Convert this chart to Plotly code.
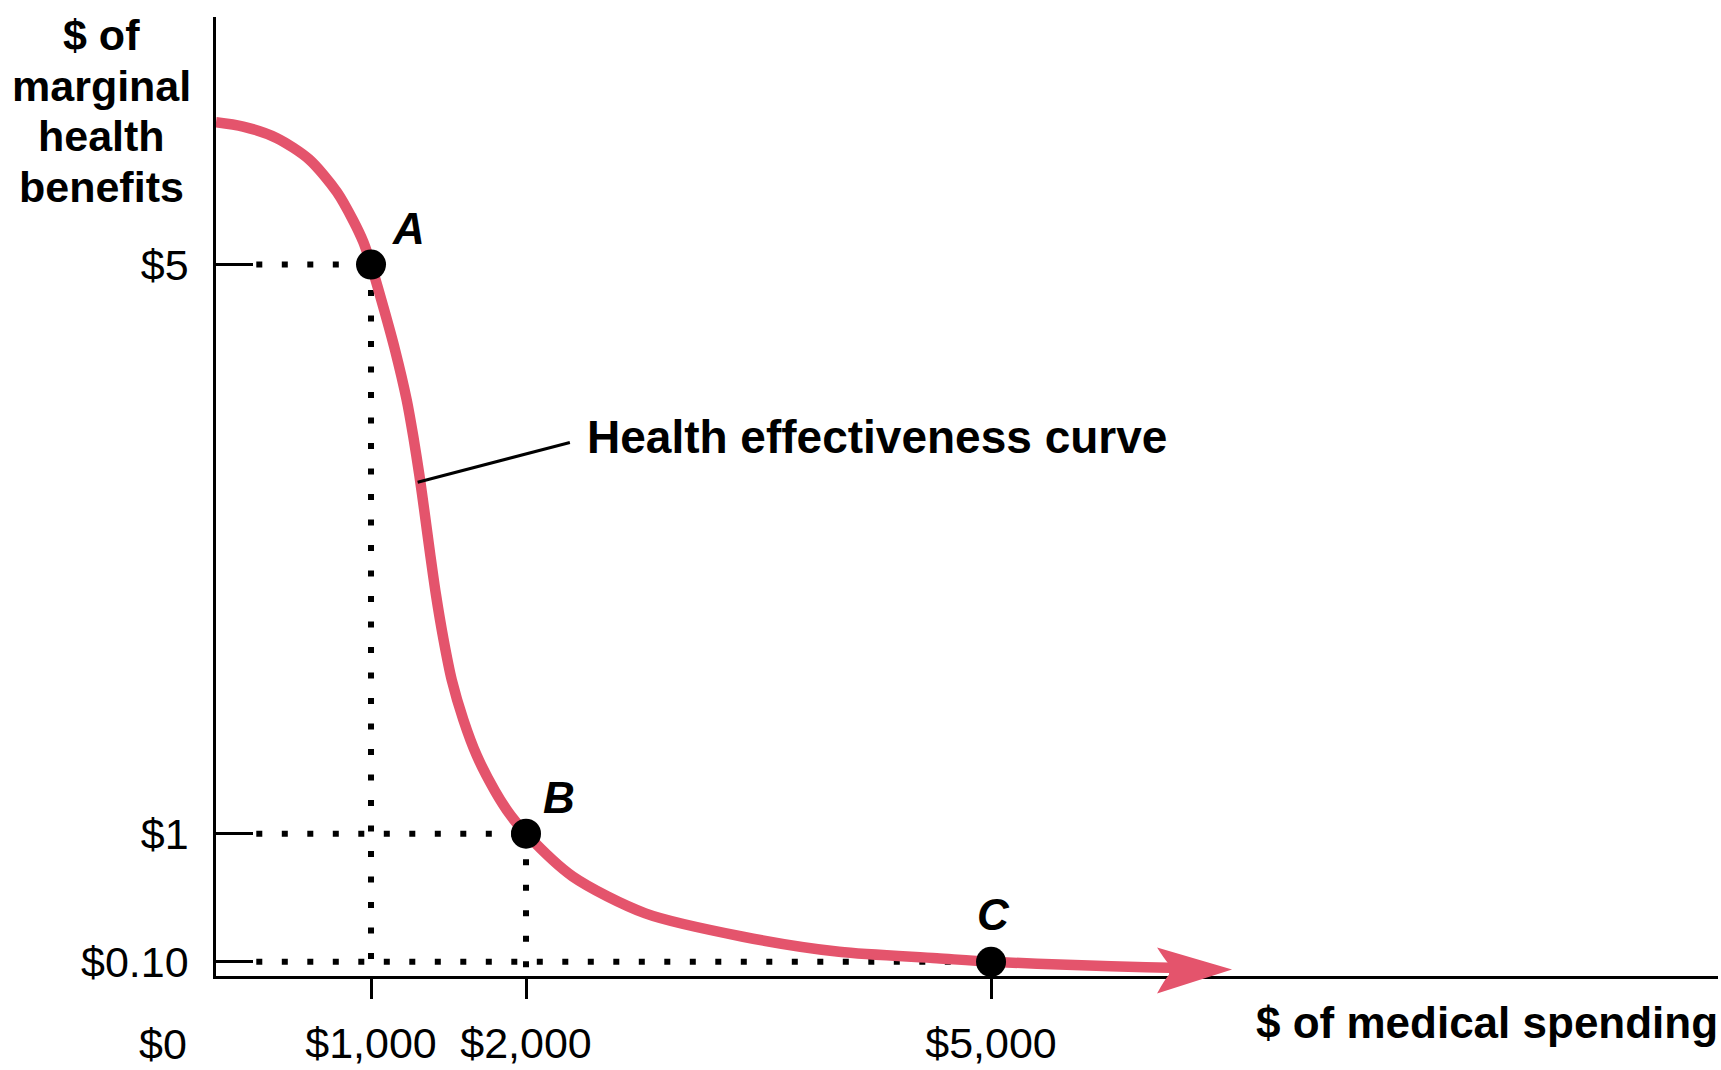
import plotly.graph_objects as go

# ---- data ----
curve_x = [0, 175, 390, 600, 780, 885, 950, 1000, 1080, 1155, 1230, 1273, 1312, 1344,
           1381, 1419, 1467, 1521, 1596, 1682, 1800, 1900, 2000, 2300, 2770, 3400,
           4020, 4650, 5000, 5585, 6000, 6300, 6555]
curve_y = [6.0, 5.97, 5.89, 5.74, 5.51, 5.31, 5.16, 5.0, 4.70, 4.40, 4.05, 3.79, 3.52, 3.27,
           2.97, 2.68, 2.37, 2.08, 1.80, 1.55, 1.30, 1.13, 1.0, 0.70, 0.44, 0.276,
           0.17, 0.125, 0.1, 0.075, 0.062, 0.055, 0.045]

point_x = [1000, 2000, 5000]
point_y = [5, 1, 0.10]
point_labels = ["A", "B", "C"]

x_tickvals = [1000, 2000, 5000]
x_ticktext = ["$1,000", "$2,000", "$5,000"]
y_tickvals = [0.10, 1, 5]
y_ticktext = ["$0.10", "$1", "$5"]

curve_name = "Health effectiveness curve"
x_title = "$ of medical spending"
y_title_lines = ["$ of", "marginal", "health", "benefits"]
origin_label = "$0"

# ---- axes ranges ----
X_RANGE = [0, 9690]
Y_RANGE = [0, 6.74]

# ---- style ----
RED = "#E4546C"
BOLD = "Liberation Sans, Arial, sans-serif"
REG = "Liberation Sans, Arial, sans-serif"

fig = go.Figure()

# curve (shaft ends under the arrowhead)
fig.add_trace(go.Scatter(
    x=curve_x[:-1], y=curve_y[:-1], mode="lines",
    line=dict(color=RED, width=10.5, shape="spline", smoothing=0.8),
    hoverinfo="skip"))

# arrowhead anchored at the curve tip (paper refs so it is not clipped at the axis)
tip_px = (curve_x[-1] - X_RANGE[0]) / (X_RANGE[1] - X_RANGE[0])
tip_py = (curve_y[-1] - Y_RANGE[0]) / (Y_RANGE[1] - Y_RANGE[0])
fig.add_shape(type="path", xref="paper", yref="paper",
              xsizemode="pixel", ysizemode="pixel",
              xanchor=tip_px, yanchor=tip_py,
              path="M0,0 L-75,22 Q-68,11 -63,5 L-63,-5 Q-68,-11 -75,-24 Z",
              fillcolor=RED, line=dict(width=0), layer="above")

# dotted guide lines
DOT = dict(color="black", width=6, dash="6px,19.5px")
for px_, py_ in zip(point_x, point_y):
    fig.add_shape(type="line", xref="x", yref="y", x0=260, x1=px_, y0=py_, y1=py_,
                  line=DOT, layer="below")
    fig.add_shape(type="line", xref="x", yref="y", x0=px_, x1=px_, y0=py_, y1=0,
                  line=DOT, layer="below")

# points
fig.add_trace(go.Scatter(
    x=point_x, y=point_y, mode="markers", cliponaxis=False,
    marker=dict(color="black", size=30, line=dict(width=0)),
    hoverinfo="skip"))

# point labels
label_shift = {"A": (37, 36), "B": (33, 36), "C": (2, 47)}
for px_, py_, lab in zip(point_x, point_y, point_labels):
    dx, dy = label_shift[lab]
    fig.add_annotation(x=px_, y=py_, text=f"<b><i>{lab}</i></b>", showarrow=False,
                       xshift=dx, yshift=dy, xanchor="center", yanchor="middle",
                       font=dict(family=BOLD, size=44, color="black"))

# leader line + curve label
fig.add_shape(type="line", xref="x", yref="y", x0=1301, y0=3.47, x1=2283, y1=3.75,
              line=dict(color="black", width=3))
fig.add_annotation(x=2381, y=3.79, text=f"<b>{curve_name}</b>", showarrow=False,
                   xanchor="left", yanchor="middle",
                   font=dict(family=BOLD, size=46, color="black"))

# axis titles
fig.add_annotation(xref="paper", yref="paper", x=1, y=0, text=f"<b>{x_title}</b>",
                   showarrow=False, xanchor="right", yanchor="middle",
                   xshift=2, yshift=-46,
                   font=dict(family=BOLD, size=44, color="black"))
for i, line in enumerate(y_title_lines):
    fig.add_annotation(xref="paper", yref="paper", x=0, y=1, text=f"<b>{line}</b>",
                       showarrow=False, xanchor="center", yanchor="middle",
                       xshift=-115, yshift=-(18 + 50.5 * i),
                       font=dict(family=BOLD, size=43, color="black"))
fig.add_annotation(xref="paper", yref="y", x=0, y=0, text=origin_label,
                   showarrow=False, xanchor="right", yanchor="middle",
                   xshift=-27, yshift=-68,
                   font=dict(family=REG, size=43, color="black"))

fig.update_xaxes(range=X_RANGE, showgrid=False, zeroline=False,
                 showline=True, linecolor="black", linewidth=2.5,
                 tickvals=x_tickvals, ticktext=x_ticktext,
                 ticks="outside", ticklen=20, tickwidth=2.5, tickcolor="black",
                 ticklabelstandoff=8,
                 tickfont=dict(family=REG, size=43, color="black"))
fig.update_yaxes(range=Y_RANGE, showgrid=False, zeroline=False,
                 showline=True, linecolor="black", linewidth=2.5,
                 tickvals=y_tickvals, ticktext=y_ticktext,
                 ticks="inside", ticklen=37, tickwidth=2.5, tickcolor="black",
                 ticklabelstandoff=16,
                 tickfont=dict(family=REG, size=43, color="black"))

fig.update_layout(width=1721, height=1070, showlegend=False,
                  paper_bgcolor="white", plot_bgcolor="white",
                  margin=dict(l=216, r=3, t=17, b=82, pad=0))

fig.write_html("out.html",
               config={"displayModeBar": False},
               post_script="document.body.style.margin='0px';"
                           "document.body.style.overflow='hidden';")
